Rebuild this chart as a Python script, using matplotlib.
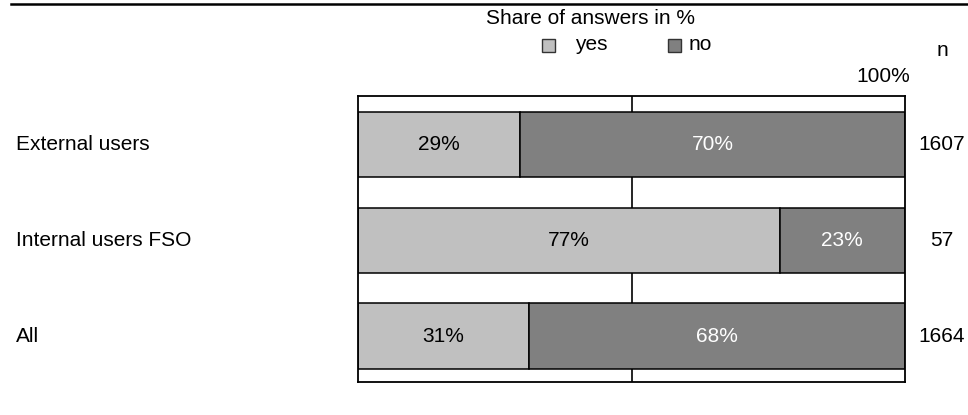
import matplotlib
matplotlib.use("Agg")
import matplotlib.pyplot as plt
from matplotlib.lines import Line2D
from matplotlib.patches import Rectangle

plt.rcParams['font.family'] = ['Liberation Sans', 'DejaVu Sans']

# data
groups = ['External users', 'Internal users FSO', 'All']
yes_share = [29.6, 77.1, 31.3]
no_share = [70.4, 22.9, 68.7]
yes_labels = ['29%', '77%', '31%']
no_labels = ['70%', '23%', '68%']
n_answers = ['1607', '57', '1664']

c_yes = '#c0c0c0'
c_no = '#808080'
fs = 15

W, H = 968, 415
fig = plt.figure(figsize=(W / 100, H / 100), dpi=100)

def px(x, y):
    return x / W, 1 - y / H

ax = fig.add_axes([358 / W, 1 - 382 / H, 547 / W, 286 / H])
ypos = list(range(len(groups)))

ax.axvline(50, color='black', lw=1.2, zorder=0)
ax.barh(ypos, yes_share, height=0.68, color=c_yes, edgecolor='black', linewidth=1.1, zorder=2)
ax.barh(ypos, no_share, left=yes_share, height=0.68, color=c_no, edgecolor='black', linewidth=1.1, zorder=2)

for i in ypos:
    ax.text(yes_share[i] / 2, i, yes_labels[i], ha='center', va='center', fontsize=fs, color='black', zorder=3)
    ax.text(yes_share[i] + no_share[i] / 2, i, no_labels[i], ha='center', va='center', fontsize=fs, color='white', zorder=3)
    # category label and n on the left / right
    ax.text(-342 / 547 * 100, i, groups[i], ha='left', va='center', fontsize=fs, clip_on=False)
    ax.text(100 + 37 / 547 * 100, i, n_answers[i], ha='center', va='center', fontsize=fs, clip_on=False)

ax.set_xlim(0, 100)
ax.set_ylim(2.48, -0.505)
ax.set_xticks([])
ax.set_yticks([])
for s in ax.spines.values():
    s.set_linewidth(1.3)
    s.set_color('black')

# header pieces
fig.add_artist(Line2D([11 / W, 1], [1 - 4 / H, 1 - 4 / H], color='black', lw=1.8))
fig.text(*px(590, 19), 'Share of answers in %', ha='center', va='center', fontsize=fs)
fig.add_artist(Rectangle(px(542, 52), 13 / W, 13 / H, facecolor=c_yes, edgecolor='#333333', lw=1.0))
fig.text(*px(575, 45), 'yes', ha='left', va='center', fontsize=fs)
fig.add_artist(Rectangle(px(668, 52), 13 / W, 13 / H, facecolor=c_no, edgecolor='#333333', lw=1.0))
fig.text(*px(689, 45), 'no', ha='left', va='center', fontsize=fs)
fig.text(*px(942, 50), 'n', ha='center', va='center', fontsize=fs)
fig.text(*px(910, 77), '100%', ha='right', va='center', fontsize=fs)

fig.savefig('out.png', dpi=100)
